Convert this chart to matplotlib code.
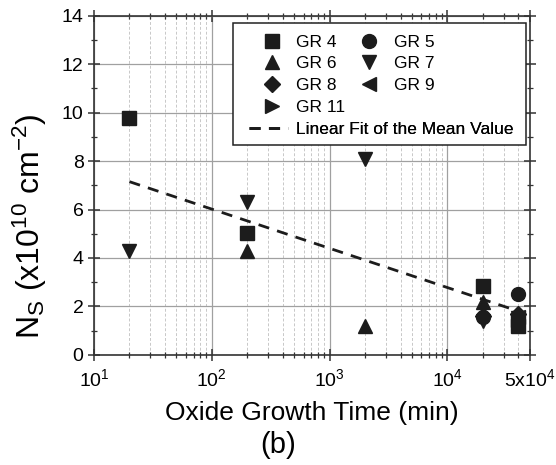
import matplotlib
matplotlib.use("Agg")
import matplotlib.pyplot as plt
from matplotlib.lines import Line2D
from matplotlib.patches import Rectangle
from matplotlib.ticker import FixedLocator, NullFormatter

plt.rcParams['font.family'] = ['Liberation Sans', 'DejaVu Sans']
plt.rcParams['mathtext.fontset'] = 'custom'
plt.rcParams['mathtext.rm'] = 'Liberation Sans'
plt.rcParams['mathtext.it'] = 'Liberation Sans:italic'
plt.rcParams['mathtext.bf'] = 'Liberation Sans:bold'

# ---- data ----
gr4_x = [20, 200, 20000, 40000]
gr4_y = [9.8, 5.05, 2.85, 1.2]
gr5_x = [20000, 40000]
gr5_y = [1.55, 2.5]
gr6_x = [200, 2000, 20000, 40000]
gr6_y = [4.3, 1.2, 2.2, 1.3]
gr7_x = [20, 200, 2000, 20000, 40000]
gr7_y = [4.3, 6.3, 8.1, 1.4, 1.5]
gr8_x = [20000, 40000]
gr8_y = [1.6, 1.7]
gr9_x = [40000]
gr9_y = [1.55]
gr11_x = [40000]
gr11_y = [1.45]
fit_x = [20, 40000]
fit_y = [7.15, 1.8]

xticks = [10, 100, 1000, 10000, 50000]
xtick_labels = ['10$^1$', '10$^2$', '10$^3$', '10$^4$', '5x10$^4$']
yticks = [0, 2, 4, 6, 8, 10, 12, 14]

fig = plt.figure(figsize=(5.56, 4.65), dpi=100)
ax = fig.add_axes([0.169, 0.237, 0.784, 0.729])

c = '#1c1c1c'
ms = 9.5
series = [
    (gr4_x, gr4_y, 's', 'GR 4', ms),
    (gr5_x, gr5_y, 'o', 'GR 5', ms + 0.5),
    (gr6_x, gr6_y, '^', 'GR 6', ms + 1),
    (gr7_x, gr7_y, 'v', 'GR 7', ms + 1),
    (gr8_x, gr8_y, 'D', 'GR 8', ms - 1),
    (gr9_x, gr9_y, '<', 'GR 9', ms + 1),
    (gr11_x, gr11_y, '>', 'GR 11', ms + 1),
]
handles = {}
for xs, ys, m, lab, s in series:
    h, = ax.plot(xs, ys, linestyle='none', marker=m, markersize=s, color=c,
                 markeredgecolor=c, label=lab, zorder=3)
    handles[lab] = h
fit_h, = ax.plot(fit_x, fit_y, linestyle=(0, (4, 3)), color=c, linewidth=2,
                 label='Linear Fit of the Mean Value', zorder=2)

ax.set_xscale('log')
ax.set_xlim(10, 50000)
ax.set_ylim(0, 14)
ax.set_xticks(xticks)
ax.set_xticklabels(xtick_labels)
minors = [m * 10 ** d for d in range(1, 5) for m in range(2, 10) if m * 10 ** d < 50000]
ax.xaxis.set_minor_locator(FixedLocator(minors))
ax.xaxis.set_minor_formatter(NullFormatter())
ax.set_yticks(yticks)
ax.yaxis.set_minor_locator(FixedLocator([1, 3, 5, 7, 9, 11, 13]))

ax.grid(True, which='major', color='#a0a0a0', linewidth=0.9, linestyle='-')
ax.grid(True, which='minor', axis='x', color='#c8c8c8', linewidth=0.7, linestyle=(0, (3, 2)))
ax.set_axisbelow(True)

for sp in ax.spines.values():
    sp.set_linewidth(1.2)
    sp.set_color('#333333')
ax.tick_params(which='major', direction='inout', length=8, width=1.1, labelsize=14,
               top=True, right=True, colors='#333333', labelcolor='black')
ax.tick_params(which='minor', direction='inout', length=5, width=0.9,
               top=True, right=True, colors='#333333')
ax.tick_params(axis='x', which='major', pad=5.5)

ax.set_xlabel('Oxide Growth Time (min)', fontsize=19, labelpad=8)
ax.set_ylabel('N$_\\mathregular{S}$ (x10$^{10}$ cm$^{-2}$)', fontsize=23)
ax.yaxis.set_label_coords(-0.103, 0.38)
fig.text(0.5, 0.042, '(b)', ha='center', va='center', fontsize=21)

# legend
order = ['GR 4', 'GR 6', 'GR 8', 'GR 11', 'GR 5', 'GR 7', 'GR 9']
hl = [handles[k] for k in order] + [Line2D([], [], linestyle='none')]
labs = order + ['']
leg1 = ax.legend(hl, labs, ncol=2, loc='upper left', bbox_to_anchor=(0.376, 0.955),
                 frameon=False, fontsize=12.5, handlelength=1.2, handletextpad=0.8,
                 columnspacing=0.8, labelspacing=0.38, borderpad=0.2, borderaxespad=0)
ax.add_artist(leg1)
leg2 = ax.legend([fit_h], ['Linear Fit of the Mean Value'], loc='upper left',
                 bbox_to_anchor=(0.3486, 0.698), frameon=False, fontsize=12.5,
                 handlelength=2.2, handletextpad=0.5, borderpad=0.2, borderaxespad=0)
ax.add_artist(leg2)
ax.add_patch(Rectangle((0.319, 0.619), 0.672, 0.36, transform=ax.transAxes,
                       fill=True, facecolor='white', edgecolor='#222222',
                       linewidth=1.1, zorder=4))
leg1.set_zorder(5)
leg2.set_zorder(5)

fig.savefig('out.png', dpi=100)
